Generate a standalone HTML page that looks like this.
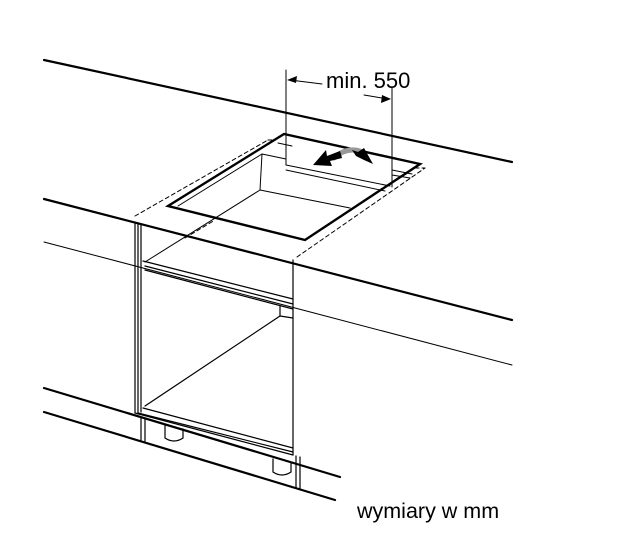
<!DOCTYPE html>
<html><head><style>html,body{margin:0;padding:0;background:#fff}svg{display:block}</style></head>
<body>
<svg width="638" height="542" viewBox="0 0 638 542" xmlns="http://www.w3.org/2000/svg" fill="none" stroke="#000" stroke-linecap="round">
<line x1="44" y1="60" x2="512" y2="162" stroke-width="2.2"/>
<line x1="44" y1="199" x2="512" y2="320" stroke-width="2.2"/>
<line x1="44" y1="242" x2="512" y2="365" stroke-width="1"/>
<line x1="44" y1="388" x2="340" y2="477" stroke-width="2.2"/>
<line x1="44" y1="412" x2="335" y2="500" stroke-width="2.2"/>
<g stroke-dasharray="4,3" stroke-width="1">
<line x1="135" y1="216" x2="268" y2="140"/>
<line x1="185" y1="238" x2="215" y2="220"/>
<line x1="297" y1="257" x2="425" y2="168"/>
<line x1="268" y1="140" x2="283" y2="140"/>
<line x1="415" y1="168" x2="425" y2="168"/>
</g>
<polygon points="168,206 284,134 420,164 305,240" fill="#fff" stroke-width="2.4" stroke-linejoin="miter"/>
<g stroke-width="1">
<line x1="178" y1="206" x2="262" y2="154"/>
<line x1="262" y1="154" x2="286" y2="159"/>
<line x1="262" y1="154" x2="260" y2="190"/>
<line x1="260" y1="190" x2="350" y2="208"/>
<line x1="145" y1="262" x2="260" y2="190"/>
<line x1="286" y1="165" x2="390" y2="186"/>
<line x1="286" y1="170" x2="385" y2="191"/>
<line x1="278" y1="143" x2="292" y2="146"/>
<line x1="392" y1="170" x2="412" y2="174"/>
<line x1="392" y1="175" x2="410" y2="178"/>
</g>
<g stroke-width="1">
<line x1="286" y1="70" x2="286" y2="165"/>
<line x1="392" y1="88" x2="392" y2="187"/>
<line x1="290" y1="80" x2="322" y2="84"/>
<line x1="364" y1="95" x2="388" y2="99"/>
</g>
<polygon points="287,80 297,76 296,83" fill="#000" stroke="none"/>
<polygon points="391,99 381,103 382,95" fill="#000" stroke="none"/>
<text x="326" y="88" font-family="Liberation Sans, sans-serif" font-size="22" fill="#000" stroke="none">min. 550</text>
<path d="M334,158 Q346,147 360,151" stroke="#999" stroke-width="5"/>
<polygon points="313,165 326,150 327,156 340,151 342,158 330,161 332,166" fill="#000" stroke="none"/>
<polygon points="373,164 364,148 358,152 352,150 356,156 364,160" fill="#000" stroke="none"/>
<g stroke-width="1.2">
<line x1="135" y1="222" x2="135" y2="413"/>
<line x1="138" y1="223" x2="138" y2="414"/>
<line x1="141" y1="224" x2="141" y2="412"/>
<line x1="293" y1="260" x2="293" y2="455"/>
<line x1="143" y1="261" x2="293" y2="299"/>
<line x1="145" y1="266" x2="293" y2="304"/>
<line x1="145" y1="270" x2="293" y2="309"/>
<line x1="280" y1="306" x2="280" y2="316"/>
<line x1="145" y1="406" x2="280" y2="316"/>
<line x1="280" y1="316" x2="293" y2="318"/>
<line x1="138" y1="413" x2="293" y2="452"/>
<line x1="143" y1="408" x2="293" y2="448"/>
<line x1="135" y1="413" x2="293" y2="455"/>
<line x1="141" y1="418" x2="141" y2="440"/>
<line x1="145" y1="419" x2="145" y2="441"/>
<line x1="296" y1="456" x2="296" y2="488"/>
<line x1="300" y1="457" x2="300" y2="489"/>
<path d="M165,425 L165,438 Q174,444 183,438 L183,429"/>
<path d="M273,459 L273,472 Q282,478 291,472 L291,463"/>
</g>
<text x="357" y="518" font-family="Liberation Sans, sans-serif" font-size="21.5" fill="#000" stroke="none">wymiary w mm</text>
</svg>
</body></html>
